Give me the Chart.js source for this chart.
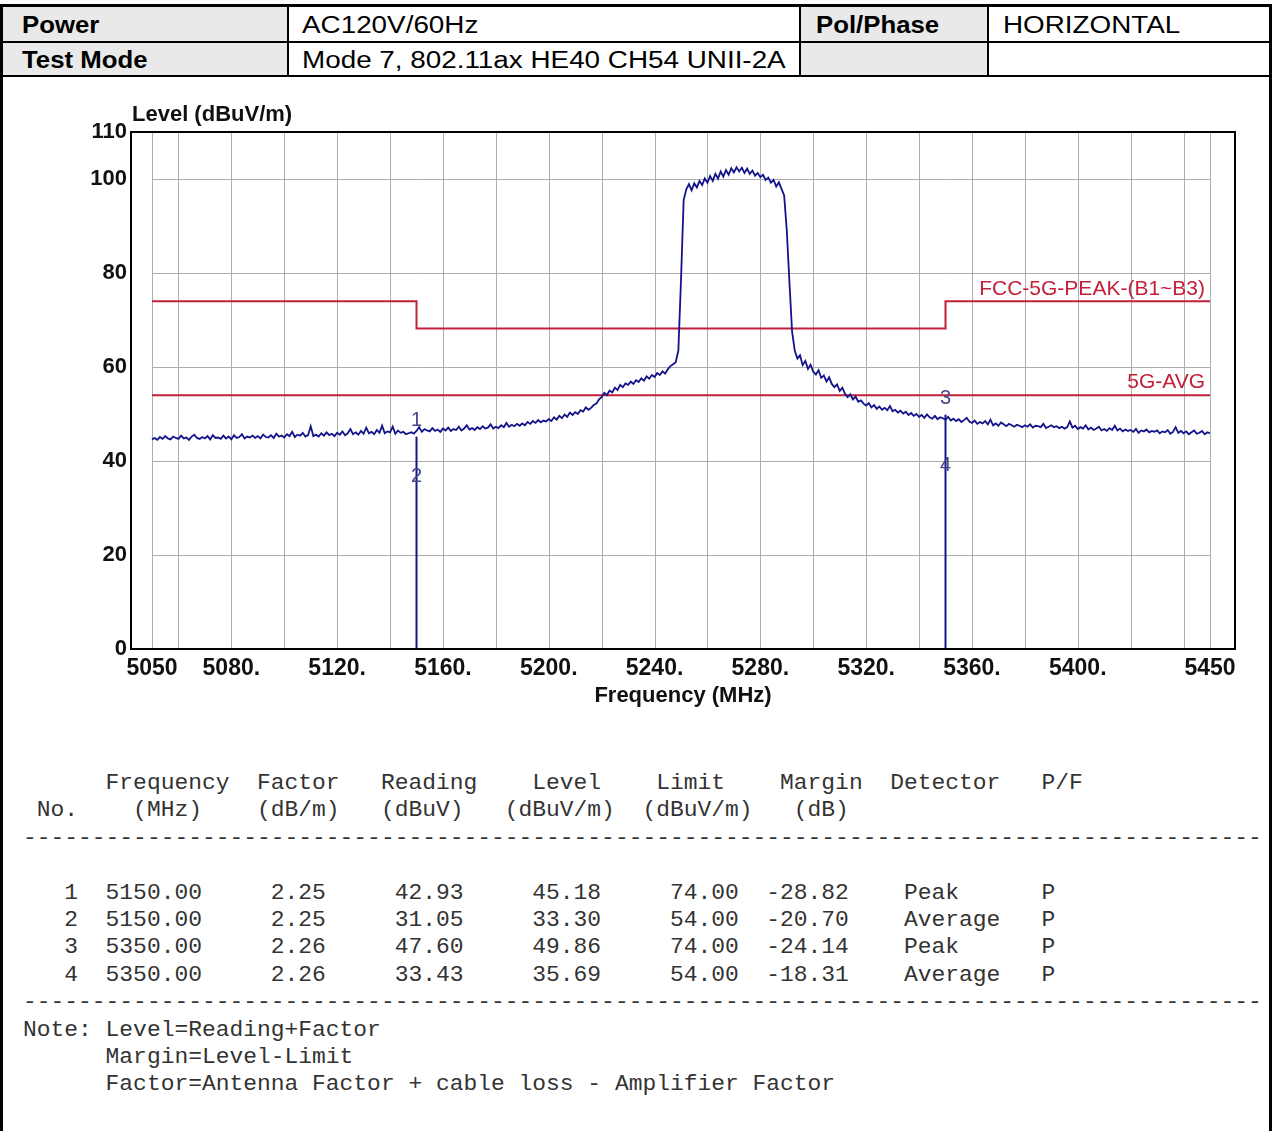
<!DOCTYPE html>
<html>
<head>
<meta charset="utf-8">
<script src="https://cdn.jsdelivr.net/npm/chart.js@4.4.0/dist/chart.umd.min.js"></script>
<style>
  body { margin: 0; background: #fff; width: 1272px; height: 1131px; position: relative; overflow: hidden; font-family: Arial, sans-serif; }
  .frame { position: absolute; left: 0; top: 4px; width: 1272px; height: 1200px; box-sizing: border-box; border: 3px solid #000; border-bottom: none; }
  .gray { position: absolute; background: #e9e9e9; }
  .hl { position: absolute; left: 0; width: 1272px; height: 2px; background: #000; }
  .vl { position: absolute; top: 4px; width: 2px; height: 73px; background: #000; }
  .hd { position: absolute; font-size: 23px; line-height: 26px; white-space: nowrap; transform-origin: 0 50%; transform: scaleX(1.21); color: #000; }
  .hd.b { font-weight: bold; transform: scaleX(1.12); }
  #chartWrap { position: absolute; left: 0; top: 80px; width: 1265px; height: 645px; }
  #table { position: absolute; left: 23px; top: 770px; margin: 0; font-family: 'Liberation Mono', monospace; font-size: 22.95px; line-height: 27.4px; color: #333; }
</style>
</head>
<body>
<div class="frame"></div>
<div class="gray" style="left:3px;top:7px;width:284px;height:34px"></div>
<div class="gray" style="left:3px;top:43px;width:284px;height:32px"></div>
<div class="gray" style="left:801px;top:7px;width:186px;height:68px"></div>
<div class="hl" style="top:41px"></div>
<div class="hl" style="top:75px"></div>
<div class="vl" style="left:287px"></div>
<div class="vl" style="left:799px"></div>
<div class="vl" style="left:987px"></div>
<div class="hd b" style="left:22px;top:12px">Power</div>
<div class="hd" style="left:302px;top:12px">AC120V/60Hz</div>
<div class="hd b" style="left:816px;top:12px">Pol/Phase</div>
<div class="hd" style="left:1003px;top:12px">HORIZONTAL</div>
<div class="hd b" style="left:22px;top:47px">Test Mode</div>
<div class="hd" style="left:302px;top:47px">Mode 7, 802.11ax HE40 CH54 UNII-2A</div>
<div id="chartWrap"><canvas id="chart" width="1265" height="645"></canvas></div>
<pre id="table"></pre>
<script>
Chart.defaults.font.family = 'Arial';

// spectrum trace (1 MHz steps)
const freqMHz = [
  5050, 5051, 5052, 5053, 5054, 5055, 5056, 5057, 5058, 5059,
  5060, 5061, 5062, 5063, 5064, 5065, 5066, 5067, 5068, 5069,
  5070, 5071, 5072, 5073, 5074, 5075, 5076, 5077, 5078, 5079,
  5080, 5081, 5082, 5083, 5084, 5085, 5086, 5087, 5088, 5089,
  5090, 5091, 5092, 5093, 5094, 5095, 5096, 5097, 5098, 5099,
  5100, 5101, 5102, 5103, 5104, 5105, 5106, 5107, 5108, 5109,
  5110, 5111, 5112, 5113, 5114, 5115, 5116, 5117, 5118, 5119,
  5120, 5121, 5122, 5123, 5124, 5125, 5126, 5127, 5128, 5129,
  5130, 5131, 5132, 5133, 5134, 5135, 5136, 5137, 5138, 5139,
  5140, 5141, 5142, 5143, 5144, 5145, 5146, 5147, 5148, 5149,
  5150, 5151, 5152, 5153, 5154, 5155, 5156, 5157, 5158, 5159,
  5160, 5161, 5162, 5163, 5164, 5165, 5166, 5167, 5168, 5169,
  5170, 5171, 5172, 5173, 5174, 5175, 5176, 5177, 5178, 5179,
  5180, 5181, 5182, 5183, 5184, 5185, 5186, 5187, 5188, 5189,
  5190, 5191, 5192, 5193, 5194, 5195, 5196, 5197, 5198, 5199,
  5200, 5201, 5202, 5203, 5204, 5205, 5206, 5207, 5208, 5209,
  5210, 5211, 5212, 5213, 5214, 5215, 5216, 5217, 5218, 5219,
  5220, 5221, 5222, 5223, 5224, 5225, 5226, 5227, 5228, 5229,
  5230, 5231, 5232, 5233, 5234, 5235, 5236, 5237, 5238, 5239,
  5240, 5241, 5242, 5243, 5244, 5245, 5246, 5247, 5248, 5249,
  5250, 5251, 5252, 5253, 5254, 5255, 5256, 5257, 5258, 5259,
  5260, 5261, 5262, 5263, 5264, 5265, 5266, 5267, 5268, 5269,
  5270, 5271, 5272, 5273, 5274, 5275, 5276, 5277, 5278, 5279,
  5280, 5281, 5282, 5283, 5284, 5285, 5286, 5287, 5288, 5289,
  5290, 5291, 5292, 5293, 5294, 5295, 5296, 5297, 5298, 5299,
  5300, 5301, 5302, 5303, 5304, 5305, 5306, 5307, 5308, 5309,
  5310, 5311, 5312, 5313, 5314, 5315, 5316, 5317, 5318, 5319,
  5320, 5321, 5322, 5323, 5324, 5325, 5326, 5327, 5328, 5329,
  5330, 5331, 5332, 5333, 5334, 5335, 5336, 5337, 5338, 5339,
  5340, 5341, 5342, 5343, 5344, 5345, 5346, 5347, 5348, 5349,
  5350, 5351, 5352, 5353, 5354, 5355, 5356, 5357, 5358, 5359,
  5360, 5361, 5362, 5363, 5364, 5365, 5366, 5367, 5368, 5369,
  5370, 5371, 5372, 5373, 5374, 5375, 5376, 5377, 5378, 5379,
  5380, 5381, 5382, 5383, 5384, 5385, 5386, 5387, 5388, 5389,
  5390, 5391, 5392, 5393, 5394, 5395, 5396, 5397, 5398, 5399,
  5400, 5401, 5402, 5403, 5404, 5405, 5406, 5407, 5408, 5409,
  5410, 5411, 5412, 5413, 5414, 5415, 5416, 5417, 5418, 5419,
  5420, 5421, 5422, 5423, 5424, 5425, 5426, 5427, 5428, 5429,
  5430, 5431, 5432, 5433, 5434, 5435, 5436, 5437, 5438, 5439,
  5440, 5441, 5442, 5443, 5444, 5445, 5446, 5447, 5448, 5449,
  5450
];
const levelDb = [
  44.6, 44.9, 44.5, 45.1, 44.7, 45.3, 44.8, 44.6, 45.2, 44.9,
  44.7, 45.4, 44.8, 45.0, 44.5, 45.2, 45.6, 44.9, 44.7, 45.1,
  44.8, 45.3, 44.6, 45.5, 44.9, 45.0, 44.7, 45.4, 44.8, 45.2,
  44.6, 45.5, 44.9, 45.1, 45.7, 44.8, 45.2, 45.0, 45.4, 44.9,
  45.3, 44.8, 45.6, 45.1, 45.0, 45.5, 44.9, 45.8, 45.2, 45.4,
  45.0, 45.7, 45.3, 46.2, 45.1, 45.6, 45.4, 46.0, 45.2, 45.5,
  47.4, 45.3, 45.6, 45.2, 45.9, 45.4, 46.1, 45.5, 45.8, 45.3,
  46.0, 45.6, 46.3, 45.5, 45.9, 46.8, 45.7, 46.1, 45.6, 46.4,
  45.8, 47.1, 45.9, 46.2, 45.7, 46.6, 46.0, 47.5, 45.9, 46.3,
  46.1, 47.3, 45.8, 46.5, 46.0, 46.2, 45.7, 45.9, 46.1, 45.8,
  46.4, 47.2, 46.2, 46.8, 46.5, 46.3, 47.0, 46.4, 46.7, 46.2,
  46.9, 46.5, 47.1, 46.4, 46.8, 46.6, 47.3, 46.5, 46.9, 47.6,
  46.7, 47.0, 46.6, 47.2, 46.8, 47.4, 46.9, 47.1, 47.8, 46.9,
  47.3, 47.0, 47.6, 47.2, 48.1, 47.3, 47.7, 47.4, 47.9, 47.5,
  48.0, 47.6, 48.3, 47.9, 48.5, 48.1, 48.7, 48.2, 48.6, 48.4,
  48.9, 48.5, 49.3, 48.8, 49.6, 49.1, 49.9, 49.4, 50.3, 49.8,
  50.4, 50.0, 50.8, 50.5, 51.4, 50.9, 51.3, 51.9, 52.2, 53.1,
  53.6, 54.5, 54.0, 55.0, 54.6, 55.6, 55.1, 56.2, 55.7, 56.5,
  56.2, 56.9, 56.4, 57.2, 56.8, 57.6, 57.1, 58.0, 57.5, 58.3,
  57.9, 58.7, 58.3, 59.1, 58.6, 59.5, 60.2, 60.6, 61.0, 63.5,
  78.5, 95.5, 97.8, 98.9, 97.6, 99.1, 98.2, 99.6, 98.7, 100.1,
  99.2, 100.6, 99.6, 101.1, 100.1, 101.6, 100.5, 101.9, 100.9, 102.3,
  101.4, 102.5, 101.6, 102.4, 101.3, 102.2, 101.1, 101.8, 100.7, 101.3,
  100.4, 100.9, 99.8, 100.3, 99.2, 99.8, 98.4, 99.3, 97.9, 96.5,
  89.0, 78.0, 67.5, 63.5, 61.8, 62.5, 60.4, 61.3, 59.6, 60.5,
  59.0, 58.4, 59.3, 57.7, 58.2, 56.9, 57.8, 56.4, 55.7, 56.3,
  54.9, 55.6, 54.3, 53.6, 54.2, 53.1, 53.7, 52.6, 52.9, 52.2,
  51.8, 52.3, 51.4, 51.9, 51.1, 51.6, 50.9, 51.3, 50.8, 51.7,
  50.6, 50.9, 50.3, 50.7, 50.1, 50.5, 49.8, 50.2, 49.6, 50.0,
  49.4, 49.8, 49.2, 49.9, 49.3, 49.0, 49.6, 48.9, 49.3, 49.1,
  48.8, 49.4, 48.6, 49.0, 48.5, 48.9, 48.3, 48.7, 49.2, 48.4,
  48.1, 48.6, 47.9, 48.3, 48.0, 48.5, 47.8, 48.8, 47.6, 48.0,
  47.5, 48.2, 47.8, 47.4, 47.9, 47.6, 47.3, 47.7, 47.5, 47.2,
  47.6, 47.3, 47.8, 47.1, 47.5, 47.4, 47.2, 47.9, 47.0, 47.3,
  47.6, 47.2, 47.4, 47.0, 47.3, 46.9, 47.2, 48.4, 47.1, 47.5,
  46.8, 47.2, 46.9, 47.6, 46.7, 47.1, 46.6, 46.9, 47.3, 46.5,
  46.8, 46.4, 47.0, 46.6, 47.5, 46.5, 46.9, 46.3, 46.7, 46.4,
  46.6, 46.2, 46.8, 46.0, 46.5, 46.3, 46.7, 46.1, 46.4, 46.2,
  46.5, 45.9, 46.3, 46.1, 46.6, 45.8, 46.2, 47.2, 46.0, 46.4,
  45.9, 46.3, 45.7, 46.1, 46.5, 45.8, 46.0, 46.4, 45.7, 46.1,
  45.9
];

const peakLimitFreq = [5050, 5150, 5150, 5350, 5350, 5450];
const peakLimitLevel = [74, 74, 68.2, 68.2, 74, 74];
const avgLimitFreq = [5050, 5450];
const avgLimitLevel = [54, 54];

const markerNo = [1, 2, 3, 4];
const markerFreq = [5150.00, 5150.00, 5350.00, 5350.00];
const markerFactor = [2.25, 2.25, 2.26, 2.26];
const markerReading = [42.93, 31.05, 47.60, 33.43];
const markerLevel = [45.18, 33.30, 49.86, 35.69];
const markerLimit = [74.00, 54.00, 74.00, 54.00];
const markerMargin = [-28.82, -20.70, -24.14, -18.31];
const markerDetector = ['Peak', 'Average', 'Peak', 'Average'];
const markerPF = ['P', 'P', 'P', 'P'];

const xTickValues = [5050, 5080, 5120, 5160, 5200, 5240, 5280, 5320, 5360, 5400, 5450];
const xGridValues = [5050, 5060, 5080, 5100, 5120, 5140, 5160, 5180, 5200, 5220, 5240, 5260, 5280, 5300, 5320, 5340, 5360, 5380, 5400, 5420, 5440, 5450];
const yTickValues = [0, 20, 40, 60, 80, 100, 110];
const yGridValues = [20, 40, 60, 80, 100];

const RED = '#c21f3a';
const NAVY = '#14148a';

const toPoints = (xs, ys) => xs.map((x, i) => ({ x: x, y: ys[i] }));

var markerSets = [];
markerDetector.forEach((d, i) => {
  if (d !== 'Peak') return;
  markerSets.push({
    data: [{ x: markerFreq[i], y: 0 }, { x: markerFreq[i], y: markerLevel[i] }],
    borderColor: NAVY,
    borderWidth: 2,
    pointRadius: 0,
    order: 2
  });
});

const extras = {
  id: 'extras',
  beforeDatasetsDraw: chart => {
    const ctx = chart.ctx;
    const x = chart.scales.x, y = chart.scales.y;
    ctx.save();
    ctx.strokeStyle = '#acacac';
    ctx.lineWidth = 1;
    xGridValues.forEach(v => {
      const px = Math.round(x.getPixelForValue(v)) + 0.5;
      ctx.beginPath();
      ctx.moveTo(px, y.getPixelForValue(110));
      ctx.lineTo(px, y.getPixelForValue(0));
      ctx.stroke();
    });
    yGridValues.forEach(v => {
      const py = Math.round(y.getPixelForValue(v)) + 0.5;
      ctx.beginPath();
      ctx.moveTo(x.getPixelForValue(5050), py);
      ctx.lineTo(x.getPixelForValue(5450), py);
      ctx.stroke();
    });
    ctx.restore();
  },
  afterDatasetsDraw: chart => {
    const ctx = chart.ctx;
    const a = chart.chartArea;
    const x = chart.scales.x, y = chart.scales.y;
    ctx.save();
    ctx.strokeStyle = '#000';
    ctx.lineWidth = 2;
    ctx.strokeRect(a.left, a.top, a.right - a.left, a.bottom - a.top);

    // limit names
    ctx.fillStyle = RED;
    ctx.font = '21px Arial';
    ctx.textAlign = 'right';
    ctx.textBaseline = 'alphabetic';
    ctx.fillText('FCC-5G-PEAK-(B1~B3)', x.getPixelForValue(5450) - 5, y.getPixelForValue(peakLimitLevel[5]) - 6);
    ctx.fillText('5G-AVG', x.getPixelForValue(5450) - 5, y.getPixelForValue(avgLimitLevel[1]) - 7);

    // marker numbers
    ctx.fillStyle = '#45458a';
    ctx.font = '20px Arial';
    ctx.textAlign = 'center';
    ctx.textBaseline = 'middle';
    markerNo.forEach((n, i) => {
      ctx.fillText(String(n), x.getPixelForValue(markerFreq[i]), y.getPixelForValue(markerLevel[i]) - 16);
    });

    // y axis title
    ctx.fillStyle = '#111';
    ctx.font = 'bold 22px Arial';
    ctx.textAlign = 'left';
    ctx.fillText('Level (dBuV/m)', a.left + 1, a.top - 17);
    ctx.restore();
  }
};

new Chart(document.getElementById('chart'), {
  type: 'line',
  plugins: [extras],
  data: {
    datasets: [{
      data: toPoints(freqMHz, levelDb),
      borderColor: NAVY,
      borderWidth: 1.8,
      pointRadius: 0,
      order: 0
    }, {
      data: toPoints(peakLimitFreq, peakLimitLevel),
      borderColor: RED,
      borderWidth: 2,
      pointRadius: 0,
      order: 1
    }, {
      data: toPoints(avgLimitFreq, avgLimitLevel),
      borderColor: RED,
      borderWidth: 2,
      pointRadius: 0,
      order: 1
    }].concat(markerSets)
  },
  options: {
    responsive: false,
    animation: false,
    devicePixelRatio: 1,
    layout: { padding: { left: 0, top: 52, right: 30, bottom: 0 } },
    plugins: {
      legend: { display: false },
      tooltip: { enabled: false }
    },
    scales: {
      x: {
        type: 'linear',
        min: 5042.06,
        max: 5459.45,
        afterBuildTicks: s => { s.ticks = xTickValues.map(v => ({ value: v })); },
        afterFit: s => { s.height = 76; },
        grid: { display: false, drawTicks: false },
        border: { display: false },
        ticks: {
          padding: 6,
          autoSkip: false,
          maxRotation: 0,
          color: '#111',
          font: { size: 23, weight: 'bold' },
          callback: function (value) {
            return (value === 5050 || value === 5450) ? String(value) : value + '.';
          }
        },
        title: {
          display: true,
          text: 'Frequency (MHz)',
          color: '#111',
          font: { size: 22, weight: 'bold' },
          padding: { top: 0, bottom: 16 }
        }
      },
      y: {
        min: 0,
        max: 110,
        afterBuildTicks: s => { s.ticks = yTickValues.map(v => ({ value: v })); },
        afterFit: s => { s.width = 131; },
        grid: { display: false, drawTicks: false },
        border: { display: false },
        ticks: {
          padding: 4,
          color: '#111',
          font: { size: 22, weight: 'bold' }
        }
      }
    }
  }
});

// result table below the plot
const pad = (s, n) => String(s).padStart(n);
const dashes = '-'.repeat(90);
var lines = [
  '      Frequency  Factor   Reading    Level    Limit    Margin  Detector   P/F',
  ' No.    (MHz)    (dB/m)   (dBuV)   (dBuV/m)  (dBuV/m)   (dB)',
  dashes,
  ''
];
markerNo.forEach((n, i) => {
  lines.push(pad(n, 4) + '  ' + markerFreq[i].toFixed(2) +
    pad(markerFactor[i].toFixed(2), 9) +
    pad(markerReading[i].toFixed(2), 10) +
    pad(markerLevel[i].toFixed(2), 10) +
    pad(markerLimit[i].toFixed(2), 10) +
    pad(markerMargin[i].toFixed(2), 8) + '    ' +
    markerDetector[i].padEnd(10) + markerPF[i]);
});
lines.push(dashes);
lines.push('Note: Level=Reading+Factor');
lines.push('      Margin=Level-Limit');
lines.push('      Factor=Antenna Factor + cable loss - Amplifier Factor');
document.getElementById('table').textContent = lines.join('\n');
</script>
</body>
</html>
